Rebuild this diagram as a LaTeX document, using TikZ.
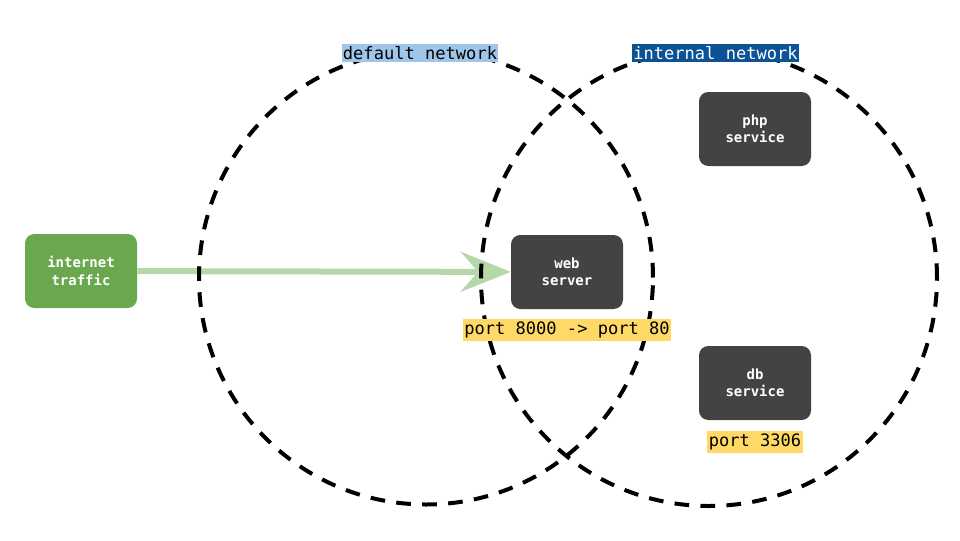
\documentclass[tikz,border=0pt]{standalone}
\usepackage{fontspec}
\setmonofont{DejaVu Sans Mono}
\usetikzlibrary{arrows.meta}
\definecolor{boxgray}{HTML}{434343}
\definecolor{trafficgreen}{HTML}{6AA84F}
\definecolor{arrowgreen}{HTML}{B6D7A8}
\definecolor{netblue}{HTML}{9FC5E8}
\definecolor{netdark}{HTML}{0B5394}
\definecolor{portyellow}{HTML}{FFD966}
\begin{document}
\begin{tikzpicture}[x=0.75pt,y=-0.75pt,
  service/.style={rectangle,rounded corners=7pt,fill=boxgray,text=white,minimum width=84pt,minimum height=55.5pt,align=center,font=\ttfamily\bfseries\fontsize{10.5}{13}\selectfont},
  netlabel/.style={inner xsep=1pt,inner ysep=2pt,font=\ttfamily\fontsize{12.8}{14}\selectfont},
  network/.style={dash pattern=on 11pt off 8.5pt,line width=3pt}]

       \useasboundingbox (0, 0) rectangle (960, 540);

       \node[service, fill=trafficgreen] (traffic) at (81, 271) {internet\\traffic};
       \node[service] (web) at (567, 272) {web\\server};
       \node[service] (php) at (755, 129) {php\\service};
       \node[service] (db) at (755, 383) {db\\service};

       \draw[-{Stealth[length=37.5pt,width=30pt,inset=13pt]}, line width=4.5pt, arrowgreen] (traffic) -- (web);

       % the two networks
       \draw[network] (426, 277.5) circle [radius=170.25pt];
       \draw[network] (709, 278) circle [radius=171pt];

       \node[netlabel, fill=netblue] (default) at (420, 53) {default network};
       \node[netlabel, fill=netdark, text=white] (internal) at (715.5, 53) {internal network};

       \node[netlabel, fill=portyellow] (webport) at (567, 330) {port 8000 -> port 80};
       \node[netlabel, fill=portyellow] (dbport) at (755, 442) {port 3306};
     \end{tikzpicture}
\end{document}
